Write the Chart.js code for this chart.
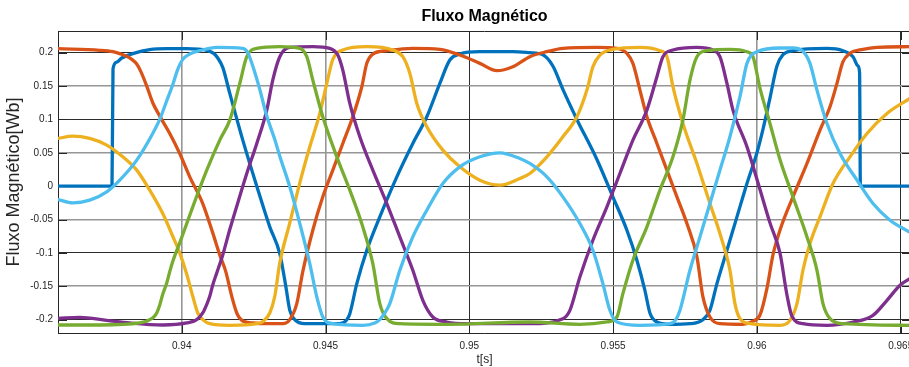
<!DOCTYPE html>
<html>
<head>
<meta charset="utf-8">
<script src="https://cdn.jsdelivr.net/npm/chart.js@4.4.1/dist/chart.umd.min.js"></script>
<style>
  html, body { margin: 0; padding: 0; background: #fff; overflow: hidden; }
  #wrap { position: absolute; left: 0; top: 0; width: 931px; height: 367px; }
</style>
</head>
<body>
<div id="wrap"><canvas id="fluxo"></canvas></div>
<script>
// Time samples [s] and flux linkage [Wb] for each of the six phases
const tFase1 = [0.935697,0.937575,0.93761,0.937739,0.937913,0.938296,0.938887,0.939478,0.940174,0.94087,0.941113,0.941252,0.941426,0.94167,0.942122,0.942609,0.943061,0.943409,0.943618,0.943757,0.943931,0.944279,0.945496,0.94574,0.945844,0.946087,0.946435,0.946887,0.947479,0.948035,0.948522,0.948975,0.949322,0.94967,0.950366,0.951514,0.952105,0.952557,0.952905,0.953253,0.95374,0.954436,0.954992,0.955479,0.955827,0.956105,0.956279,0.956523,0.956975,0.957671,0.958123,0.958366,0.95861,0.958958,0.959306,0.959654,0.960001,0.96021,0.960454,0.960697,0.960906,0.961254,0.962436,0.962993,0.963341,0.963515,0.96357,0.963598,0.96536];
const fluxoFase1 = [0,0,0.176,0.186,0.192,0.1985,0.2046,0.206,0.206,0.2036,0.199,0.192,0.178,0.139,0.069,0.0,-0.061,-0.101,-0.15,-0.186,-0.2,-0.206,-0.206,-0.2,-0.191,-0.146,-0.096,-0.046,0.014,0.064,0.104,0.154,0.189,0.198,0.2015,0.2015,0.2,0.197,0.18,0.145,0.1,0.04,-0.016,-0.066,-0.111,-0.156,-0.19,-0.2035,-0.207,-0.206,-0.2,-0.186,-0.146,-0.096,-0.046,0.004,0.05,0.085,0.132,0.18,0.197,0.203,0.2065,0.203,0.194,0.18,0.17,0,0];

const tFase2 = [0.935697,0.937148,0.9376,0.937843,0.938122,0.938261,0.938435,0.938574,0.938783,0.938991,0.939235,0.939583,0.93993,0.940278,0.94073,0.941078,0.941322,0.941531,0.941739,0.941913,0.942122,0.94247,0.942887,0.943513,0.943757,0.944,0.944209,0.944557,0.944905,0.945253,0.9456,0.945948,0.946261,0.946435,0.946644,0.947131,0.948035,0.948975,0.94967,0.950366,0.950957,0.951514,0.952105,0.952697,0.953253,0.954436,0.955131,0.955479,0.955688,0.955932,0.956175,0.956523,0.956871,0.957219,0.957566,0.957914,0.958123,0.958366,0.958714,0.959514,0.959827,0.960106,0.960349,0.960558,0.960801,0.961254,0.961741,0.962193,0.962541,0.962784,0.962993,0.963236,0.963689,0.964176,0.96536];
const fluxoFase2 = [0.206,0.2036,0.2015,0.1986,0.194,0.19,0.183,0.172,0.15,0.125,0.105,0.079,0.049,0.014,-0.026,-0.07,-0.103,-0.128,-0.165,-0.19,-0.202,-0.205,-0.206,-0.206,-0.2,-0.176,-0.128,-0.066,-0.016,0.024,0.064,0.104,0.149,0.184,0.198,0.203,0.2065,0.205,0.1965,0.184,0.173,0.179,0.194,0.2015,0.2065,0.208,0.2065,0.199,0.184,0.144,0.104,0.064,0.024,-0.016,-0.056,-0.106,-0.166,-0.196,-0.206,-0.207,-0.203,-0.193,-0.153,-0.103,-0.066,-0.016,0.034,0.084,0.119,0.154,0.1865,0.199,0.205,0.208,0.209];

const tFase3 = [0.935697,0.936208,0.9368,0.937391,0.937948,0.938435,0.938887,0.939339,0.939687,0.93993,0.940174,0.940383,0.940557,0.94073,0.940974,0.94167,0.942609,0.942818,0.943061,0.943235,0.943409,0.943757,0.944105,0.944452,0.9448,0.945044,0.945253,0.9456,0.946435,0.94734,0.947687,0.947931,0.948174,0.948522,0.949079,0.94967,0.950366,0.951062,0.951757,0.952105,0.952697,0.953253,0.95374,0.954088,0.954297,0.95454,0.954992,0.955932,0.956627,0.956871,0.95708,0.957427,0.957914,0.958366,0.958714,0.959062,0.959236,0.95941,0.959758,0.960801,0.961149,0.961393,0.961601,0.961845,0.962193,0.962645,0.963236,0.963828,0.964523,0.96536];
const fluxoFase3 = [0.0715,0.075,0.0715,0.0615,0.044,0.024,-0.006,-0.041,-0.075,-0.1,-0.132,-0.165,-0.19,-0.2,-0.206,-0.2085,-0.206,-0.203,-0.19,-0.165,-0.115,-0.055,0.005,0.059,0.109,0.154,0.19,0.204,0.209,0.204,0.194,0.169,0.124,0.089,0.054,0.029,0.009,0.0015,0.0115,0.019,0.044,0.074,0.104,0.144,0.179,0.1965,0.205,0.208,0.203,0.194,0.149,0.094,0.034,-0.026,-0.071,-0.126,-0.176,-0.1985,-0.206,-0.2085,-0.201,-0.176,-0.126,-0.086,-0.046,0.004,0.044,0.079,0.109,0.1325];

const tFase4 = [0.935697,0.936452,0.937391,0.938191,0.939339,0.940174,0.940522,0.94073,0.94087,0.940974,0.941078,0.941217,0.941426,0.94167,0.941913,0.942261,0.942609,0.942957,0.943165,0.943409,0.943757,0.944557,0.945148,0.945426,0.9456,0.945844,0.946192,0.946644,0.947131,0.947583,0.948035,0.948383,0.948731,0.949218,0.949914,0.952105,0.953253,0.953497,0.953844,0.954297,0.954784,0.955236,0.955688,0.956175,0.956523,0.956732,0.95708,0.957914,0.958471,0.958714,0.958958,0.959167,0.959654,0.960106,0.960454,0.960801,0.961045,0.961219,0.961601,0.962436,0.963341,0.964036,0.964523,0.964976,0.96536];
const fluxoFase4 = [-0.198,-0.1966,-0.201,-0.205,-0.208,-0.205,-0.2,-0.19,-0.177,-0.165,-0.148,-0.13,-0.103,-0.065,-0.03,0.019,0.064,0.114,0.159,0.194,0.208,0.209,0.2065,0.1965,0.174,0.124,0.074,0.024,-0.026,-0.076,-0.126,-0.171,-0.196,-0.2035,-0.206,-0.206,-0.1985,-0.186,-0.136,-0.081,-0.031,0.019,0.069,0.114,0.164,0.194,0.204,0.208,0.204,0.194,0.154,0.114,0.059,-0.005,-0.055,-0.1,-0.163,-0.195,-0.206,-0.2085,-0.2035,-0.1935,-0.171,-0.1485,-0.1375];

const tFase5 = [0.935697,0.937148,0.938539,0.938887,0.939026,0.93913,0.939235,0.939339,0.939478,0.939583,0.939687,0.93993,0.940383,0.94087,0.941322,0.94167,0.942018,0.942261,0.942609,0.943409,0.944105,0.944348,0.944557,0.944905,0.945392,0.945844,0.946296,0.946644,0.946887,0.947131,0.947583,0.949218,0.952105,0.953844,0.954784,0.955131,0.95534,0.955688,0.956175,0.956627,0.95708,0.957427,0.957671,0.957914,0.958262,0.959062,0.959654,0.959862,0.960106,0.960454,0.960801,0.961254,0.961741,0.962088,0.962297,0.962541,0.962993,0.96536];
const fluxoFase5 = [-0.208,-0.208,-0.205,-0.2,-0.196,-0.19,-0.178,-0.162,-0.145,-0.128,-0.113,-0.085,-0.031,0.024,0.069,0.099,0.154,0.194,0.2065,0.209,0.2065,0.194,0.159,0.104,0.044,-0.006,-0.061,-0.116,-0.176,-0.1985,-0.206,-0.207,-0.2035,-0.207,-0.2035,-0.196,-0.161,-0.111,-0.061,-0.006,0.044,0.099,0.159,0.194,0.203,0.205,0.2015,0.194,0.147,0.094,0.04,-0.016,-0.076,-0.126,-0.176,-0.1985,-0.206,-0.2085];

const tFase6 = [0.935697,0.936208,0.9368,0.937391,0.937843,0.938435,0.938991,0.939235,0.939478,0.939687,0.939861,0.940035,0.940278,0.940626,0.941217,0.942122,0.942296,0.94247,0.942713,0.942957,0.943235,0.943409,0.943757,0.944105,0.944452,0.944696,0.944905,0.945253,0.946296,0.946714,0.946887,0.947061,0.947235,0.947583,0.948035,0.948522,0.949079,0.94967,0.950366,0.951062,0.951757,0.952105,0.952697,0.953253,0.953844,0.954297,0.954644,0.954888,0.955131,0.955932,0.956975,0.957184,0.957323,0.957671,0.958019,0.958366,0.958714,0.959062,0.95941,0.959654,0.960001,0.960801,0.961254,0.961601,0.961845,0.962088,0.962436,0.962889,0.96348,0.964036,0.964628,0.96536];
const fluxoFase6 = [-0.02,-0.025,-0.021,-0.0085,0.009,0.039,0.079,0.1,0.128,0.152,0.175,0.19,0.198,0.203,0.208,0.2065,0.2,0.18,0.145,0.105,0.07,0.045,-0.001,-0.056,-0.116,-0.166,-0.196,-0.206,-0.2085,-0.205,-0.2,-0.19,-0.176,-0.126,-0.076,-0.036,0.004,0.029,0.044,0.05,0.0415,0.034,0.014,-0.016,-0.056,-0.096,-0.146,-0.186,-0.2035,-0.2085,-0.206,-0.2,-0.186,-0.126,-0.076,-0.026,0.024,0.074,0.134,0.184,0.2015,0.207,0.207,0.202,0.184,0.144,0.094,0.049,0.009,-0.026,-0.051,-0.07];

// Axis ticks
const xTickValues = [0.94, 0.945, 0.95, 0.955, 0.96, 0.965];
const xTickLabels = ['0.94', '0.945', '0.95', '0.955', '0.96', '0.965'];
const yTickValues = [0.2, 0.15, 0.1, 0.05, 0, -0.05, -0.1, -0.15, -0.2];
const yTickLabels = ['0.2', '0.15', '0.1', '0.05', '0', '-0.05', '-0.1', '-0.15', '-0.2'];

// Axis limits
const X_MIN = 0.935697, X_MAX = 0.965358;
const Y_MIN = -0.22, Y_MAX = 0.2325;

const FONT = "'Liberation Sans', Arial, Helvetica, sans-serif";
const INK = '#262626';

// Grid shading: crisp dark lines alternate with softer grey ones
const xGridDark = [false, false, true, true, false, true];
const gridDark = 'rgb(45,45,45)', gridSoft = 'rgb(150,150,150)';

const series = [
  { t: tFase1, v: fluxoFase1, color: '#0072BD', order: 6 },
  { t: tFase2, v: fluxoFase2, color: '#D95319', order: 5 },
  { t: tFase3, v: fluxoFase3, color: '#EDB120', order: 4 },
  { t: tFase4, v: fluxoFase4, color: '#7E2F8E', order: 3 },
  { t: tFase5, v: fluxoFase5, color: '#77AC30', order: 2 },
  { t: tFase6, v: fluxoFase6, color: '#4DBEEE', order: 1 }
];

// Box around the axes with inward tick marks on all four sides
const axesBox = {
  id: 'axesBox',
  beforeDatasetsDraw(chart) {
    const { ctx, chartArea: a, scales: { x, y } } = chart;
    const len = 9;
    ctx.save();
    ctx.strokeStyle = INK;
    ctx.lineWidth = 1;
    ctx.beginPath();
    const top = Math.round(a.top) + 0.5, right = Math.round(a.right) - 0.5;
    ctx.moveTo(a.left, top); ctx.lineTo(a.right, top);
    ctx.moveTo(right, a.top); ctx.lineTo(right, a.bottom);
    x.ticks.forEach(tk => {
      const px = Math.round(x.getPixelForValue(tk.value)) + 0.5;
      ctx.moveTo(px, a.bottom); ctx.lineTo(px, a.bottom - len);
      ctx.moveTo(px, a.top); ctx.lineTo(px, a.top + len);
    });
    y.ticks.forEach(tk => {
      const py = Math.round(y.getPixelForValue(tk.value)) + 0.5;
      ctx.moveTo(a.left, py); ctx.lineTo(a.left + len, py);
      ctx.moveTo(a.right, py); ctx.lineTo(a.right - len, py);
    });
    ctx.stroke();
    ctx.restore();
  }
};

new Chart(document.getElementById('fluxo'), {
  type: 'line',
  data: {
    datasets: series.map(s => ({
      data: s.t.map((t, i) => ({ x: t, y: s.v[i] })),
      borderColor: s.color,
      backgroundColor: s.color,
      order: s.order,
      fill: false
    }))
  },
  options: {
    animation: false,
    responsive: true,
    maintainAspectRatio: false,
    devicePixelRatio: 1,
    layout: { padding: { left: 0, right: 20, top: 0, bottom: 0 } },
    elements: {
      point: { radius: 0, hoverRadius: 0 },
      line: { borderWidth: 3.3, cubicInterpolationMode: 'monotone', borderJoinStyle: 'round', borderCapStyle: 'round' }
    },
    plugins: {
      legend: { display: false },
      tooltip: { enabled: false },
      title: {
        display: true,
        text: 'Fluxo Magnético',
        fullSize: false,
        color: '#000',
        font: { family: FONT, size: 16, weight: 'bold', lineHeight: 1.2 },
        padding: { top: 7, bottom: 4.8 }
      }
    },
    scales: {
      x: {
        type: 'linear',
        min: X_MIN,
        max: X_MAX,
        afterBuildTicks: s => { s.ticks = xTickValues.map(v => ({ value: v })); },
        afterFit: s => { s.height = 34; },
        ticks: {
          autoSkip: false,
          maxRotation: 0,
          padding: 7,
          color: INK,
          font: { family: FONT, size: 10 },
          callback: (v, i) => xTickLabels[i]
        },
        grid: {
          drawTicks: false,
          color: c => xGridDark[c.index] ? gridDark : gridSoft,
          lineWidth: c => xGridDark[c.index] ? 1 : 1.6
        },
        border: { display: true, color: INK, width: 1 },
        title: {
          display: true,
          text: 't[s]',
          color: INK,
          font: { family: FONT, size: 12 },
          padding: { top: 0, bottom: 0.5 }
        }
      },
      y: {
        type: 'linear',
        min: Y_MIN,
        max: Y_MAX,
        afterBuildTicks: s => { s.ticks = yTickValues.map(v => ({ value: v })); },
        afterFit: s => { s.width = 58; },
        ticks: {
          padding: 5,
          color: INK,
          font: { family: FONT, size: 10 },
          callback: (v, i) => yTickLabels[i]
        },
        grid: {
          drawTicks: false,
          color: c => (c.index % 2 === 0) ? gridDark : gridSoft,
          lineWidth: c => (c.index % 2 === 0) ? 1 : 1.6
        },
        border: { display: true, color: INK, width: 1 },
        title: {
          display: true,
          text: 'Fluxo Magnético[Wb]',
          color: INK,
          font: { family: FONT, size: 18 },
          padding: { top: 3.5, bottom: 0 }
        }
      }
    }
  },
  plugins: [axesBox]
});
</script>
</body>
</html>
